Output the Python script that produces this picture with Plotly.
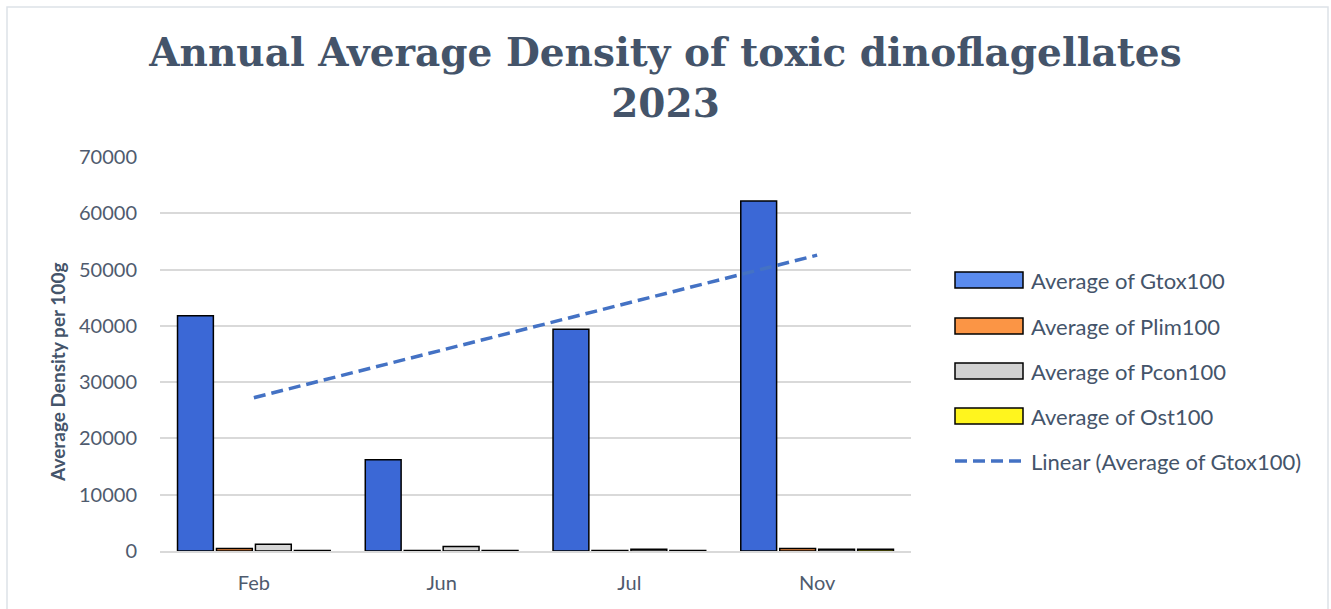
import numpy as np
import plotly.graph_objects as go

# Sampling months and the average density (cells per 100 g) of each taxon
months = ["Feb", "Jun", "Jul", "Nov"]
gtox100 = [41800, 16200, 39400, 62200]
plim100 = [450, 100, 100, 450]
pcon100 = [1200, 800, 300, 300]
ost100 = [100, 100, 100, 300]

y_ticks = [0, 10000, 20000, 30000, 40000, 50000, 60000, 70000]

TEXT = "#44546A"
TICK = "#4F5B6E"
GRID = "#D9D9D9"
TREND = "#4472C4"

series = [
    ("Average of Gtox100", gtox100, "#3B68D6", "#5A8BEE"),
    ("Average of Plim100", plim100, "#F28A3C", "#FB9545"),
    ("Average of Pcon100", pcon100, "#D6D6D6", "#D2D2D2"),
    ("Average of Ost100", ost100, "#FFFF1A", "#FFF51E"),
]
trend_name = "Linear (Average of Gtox100)"

# plot-area geometry (px) used to place the legend block in paper units
L, R, T, B, W, H = 160, 420, 157, 58, 1331, 609
PW, PH = W - L - R, H - T - B


def px(x):
    return (x - L) / PW


def py(y):
    return (H - B - y) / PH


fig = go.Figure()
for name, vals, color, _ in series:
    fig.add_trace(go.Bar(
        x=months, y=vals, name=name,
        marker=dict(color=color, line=dict(color="#000000", width=1.5)),
    ))

# Linear trend fitted to the Gtox100 averages, evaluated at each month
idx = np.arange(1, len(months) + 1)
slope, intercept = np.polyfit(idx, gtox100, 1)
trend = slope * idx + intercept
fig.add_trace(go.Scatter(
    x=months, y=trend, mode="lines", name=trend_name,
    line=dict(color=TREND, width=3.5, dash="12px,6px"),
))

# Legend block on the right: wide outlined keys with labels
shapes = [dict(
    type="rect", xref="paper", yref="paper",
    x0=px(7), x1=px(1328), y0=py(640), y1=py(7),
    line=dict(color="#DDE2E8", width=1.5), fillcolor="rgba(0,0,0,0)",
    layer="below",
)]
annotations = [dict(
    text="<b>Average Density per 100g</b>", textangle=-90,
    xref="paper", yref="paper", x=px(57), y=py(373),
    xanchor="center", yanchor="middle", showarrow=False,
    font=dict(family="Lato", size=19, color=TEXT),
)]
row_y = [280, 326, 371, 416, 461]
key_x0, key_x1, text_x = 955, 1023, 1029
for (name, _, _, key), yc in zip(series, row_y):
    shapes.append(dict(
        type="rect", xref="paper", yref="paper",
        x0=px(key_x0), x1=px(key_x1), y0=py(yc + 8), y1=py(yc - 8),
        fillcolor=key, line=dict(color="#000000", width=1.5),
    ))
    annotations.append(dict(
        text=name, xref="paper", yref="paper", x=px(text_x), y=py(yc),
        xanchor="left", yanchor="middle", showarrow=False,
        font=dict(family="Lato", size=22, color=TEXT),
    ))
shapes.append(dict(
    type="line", xref="paper", yref="paper",
    x0=px(key_x0), x1=px(key_x1), y0=py(row_y[4]), y1=py(row_y[4]),
    line=dict(color=TREND, width=3.5, dash="12px,6px"),
))
annotations.append(dict(
    text=trend_name, xref="paper", yref="paper", x=px(text_x), y=py(row_y[4]),
    xanchor="left", yanchor="middle", showarrow=False,
    font=dict(family="Lato", size=22, color=TEXT),
))

fig.update_layout(
    width=W, height=H,
    margin=dict(l=L, r=R, t=T, b=B),
    paper_bgcolor="#FFFFFF", plot_bgcolor="#FFFFFF",
    barmode="group", bargap=0.17, bargroupgap=0.08,
    showlegend=False,
    title=dict(
        text="Annual Average Density of toxic dinoflagellates<br>2023",
        x=0.5, xref="container", xanchor="center",
        y=1 - 66 / 609, yref="container", yanchor="top",
        font=dict(family="DejaVu Serif", size=39, color=TEXT, weight="bold"),
    ),
    font=dict(family="Lato", color=TICK),
    xaxis=dict(
        type="category",
        tickfont=dict(size=20, color=TICK),
        showline=True, linecolor=GRID, linewidth=1.5,
        ticks="outside", ticklen=13, tickcolor="rgba(0,0,0,0)",
        showgrid=False,
    ),
    yaxis=dict(
        range=[0, 70000],
        tickvals=y_ticks, ticktext=[str(v) for v in y_ticks],
        tickfont=dict(size=20, color=TICK),
        showgrid=True, gridcolor=GRID, gridwidth=1.5,
        zeroline=False,
        ticks="outside", ticklen=18, tickcolor="rgba(0,0,0,0)",
    ),
    shapes=shapes,
    annotations=annotations,
)

fig.write_html("out.html")
